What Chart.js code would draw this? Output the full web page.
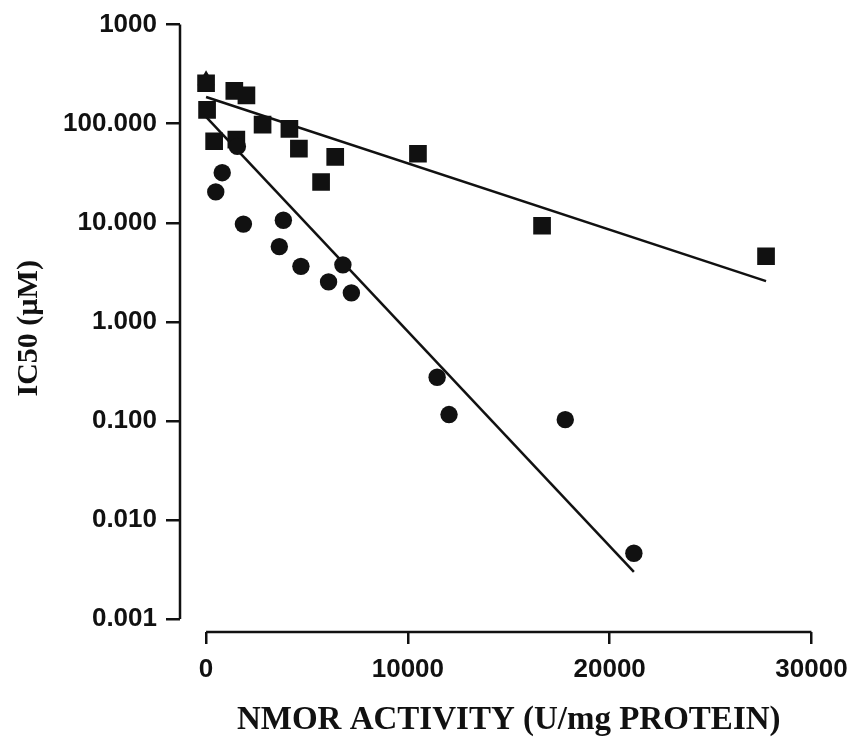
<!DOCTYPE html>
<html>
<head>
<meta charset="utf-8">
<script src="https://cdn.jsdelivr.net/npm/chart.js@4"></script>
<style>
  html, body { margin: 0; padding: 0; background: #fff; }
  #wrap { width: 850px; height: 748px; }
</style>
</head>
<body>
<div id="wrap"><canvas id="ic50Chart" width="850" height="748"></canvas></div>
<script>
// NMOR activity (U/mg protein) vs IC50 (uM)
const squareX = [0, 1400, 2000, 50, 2800, 4130, 400, 1500, 4600, 6400, 5700, 10500, 16650, 27750];
const squareY = [256, 214, 193, 138, 98, 88.5, 66.5, 69, 56, 46.3, 25.8, 49.7, 9.33, 4.59];

const circleX = [1550, 800, 480, 1850, 3830, 3630, 4700, 6780, 6070, 7200, 11450, 12040, 17800, 21200];
const circleY = [59, 32, 20.5, 9.7, 10.6, 5.75, 3.63, 3.76, 2.53, 1.96, 0.276, 0.116, 0.103, 0.00462];

const triangleX = [0];
const triangleY = [275];

// fitted regression lines (end points)
const squareFitX = [0, 27750];
const squareFitY = [186, 2.58];
const circleFitX = [0, 21200];
const circleFitY = [117, 0.00299];

const xTickValues = [0, 10000, 20000, 30000];
const yTickValues = [0.001, 0.01, 0.1, 1, 10, 100, 1000];
const yTickLabels = ['0.001', '0.010', '0.100', '1.000', '10.000', '100.000', '1000'];

const ink = '#111111';

function toPoints(xs, ys) {
    return xs.map((x, i) => ({ x: x, y: ys[i] }));
}

// draws the detached axis lines (Prism style)
const axisLines = {
    id: 'axisLines',
    afterDraw(chart) {
        const ctx = chart.ctx;
        const xs = chart.scales.x;
        const ys = chart.scales.y;
        const area = chart.chartArea;
        ctx.save();
        ctx.strokeStyle = ink;
        ctx.lineWidth = 2.5;
        ctx.beginPath();
        ctx.moveTo(area.left, ys.getPixelForValue(yTickValues[yTickValues.length - 1]));
        ctx.lineTo(area.left, ys.getPixelForValue(yTickValues[0]));
        ctx.moveTo(xs.getPixelForValue(xTickValues[0]), area.bottom);
        ctx.lineTo(xs.getPixelForValue(xTickValues[xTickValues.length - 1]), area.bottom);
        ctx.stroke();
        ctx.restore();
    }
};

const ctx = document.getElementById('ic50Chart').getContext('2d');
new Chart(ctx, {
    type: 'scatter',
    data: {
        datasets: [
            {
                label: 'circles',
                data: toPoints(circleX, circleY),
                pointStyle: 'circle',
                pointRadius: 8.7,
                backgroundColor: ink,
                borderColor: ink,
                borderWidth: 0,
                order: 1
            },
            {
                label: 'squares',
                data: toPoints(squareX, squareY),
                pointStyle: 'rect',
                pointRadius: 12.5,
                backgroundColor: ink,
                borderColor: ink,
                borderWidth: 0,
                order: 2
            },
            {
                label: 'square fit',
                data: toPoints(squareFitX, squareFitY),
                showLine: true,
                pointRadius: 0,
                borderColor: ink,
                borderWidth: 2.5,
                order: 3
            },
            {
                label: 'circle fit',
                data: toPoints(circleFitX, circleFitY),
                showLine: true,
                pointRadius: 0,
                borderColor: ink,
                borderWidth: 2.5,
                order: 3
            },
            {
                label: 'triangle',
                data: toPoints(triangleX, triangleY),
                pointStyle: 'triangle',
                pointRadius: 10,
                backgroundColor: ink,
                borderColor: ink,
                borderWidth: 0,
                order: 5
            }
        ]
    },
    options: {
        responsive: false,
        animation: false,
        layout: { padding: { top: 21, right: 0, bottom: 0, left: 0 } },
        plugins: {
            legend: { display: false },
            tooltip: { enabled: false }
        },
        scales: {
            x: {
                type: 'linear',
                min: -1292,
                max: 31291,
                afterBuildTicks: (scale) => { scale.ticks = xTickValues.map(v => ({ value: v })); },
                afterFit: (scale) => {
                    scale.height = 116;
                    scale.paddingLeft = 0;
                    scale.paddingRight = 0;
                },
                border: { display: false },
                grid: {
                    drawOnChartArea: false,
                    drawTicks: true,
                    tickLength: 12,
                    color: ink,
                    lineWidth: 2.5
                },
                ticks: {
                    color: ink,
                    padding: 10,
                    maxRotation: 0,
                    font: { family: 'Liberation Sans', size: 26, weight: 'bold' },
                    callback: (v) => String(v)
                },
                title: {
                    display: true,
                    text: 'NMOR ACTIVITY (U/mg PROTEIN)',
                    color: ink,
                    padding: { top: 0, bottom: 8 },
                    font: { family: 'Liberation Serif', size: 33, weight: 'bold' }
                }
            },
            y: {
                type: 'logarithmic',
                min: 0.000741,
                max: 1000,
                afterBuildTicks: (scale) => { scale.ticks = yTickValues.map(v => ({ value: v })); },
                afterFit: (scale) => { scale.width = 180; },
                border: { display: false },
                grid: {
                    drawOnChartArea: false,
                    drawTicks: true,
                    tickLength: 14,
                    color: ink,
                    lineWidth: 2.5
                },
                ticks: {
                    color: ink,
                    padding: 9,
                    font: { family: 'Liberation Sans', size: 26, weight: 'bold' },
                    callback: (v) => {
                        const i = yTickValues.indexOf(v);
                        return i >= 0 ? yTickLabels[i] : '';
                    }
                },
                title: {
                    display: true,
                    text: 'IC50 (µM)',
                    color: ink,
                    padding: { top: 11, bottom: 0 },
                    font: { family: 'Liberation Serif', size: 30, weight: 'bold' }
                }
            }
        }
    },
    plugins: [axisLines]
});
</script>
</body>
</html>
